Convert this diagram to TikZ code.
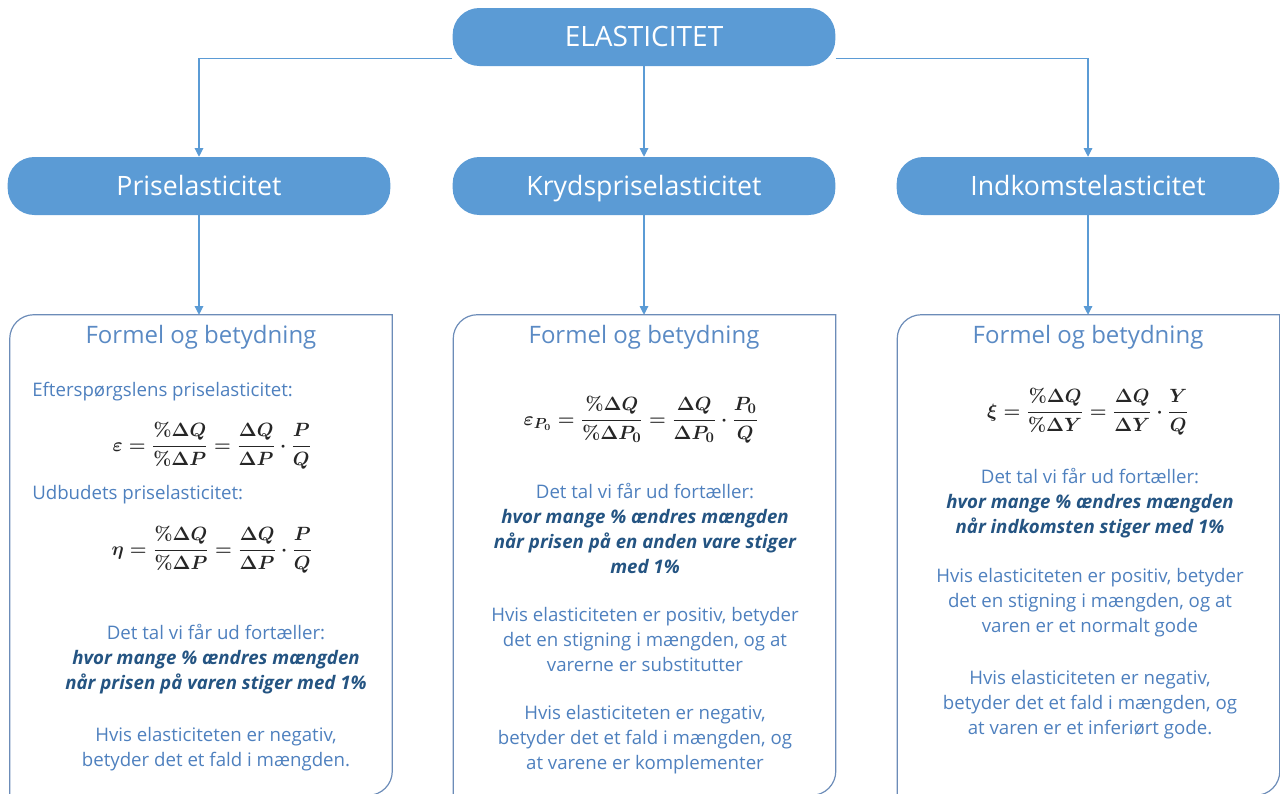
\documentclass[tikz,border=0pt]{standalone}
\usepackage[no-math]{fontspec}
\setmainfont{Open Sans}
\usepackage{amsmath,amssymb}
\usepackage{bm}
\usepackage{tikz}
\usetikzlibrary{shapes,arrows.meta,positioning,calc,backgrounds,shadows.blur}
\usepackage{xcolor}
\definecolor{officeblue}{RGB}{91,155,213}
\definecolor{boxline}{RGB}{108,140,184}
\definecolor{headblue}{RGB}{90,138,196}
\definecolor{bodyblue}{RGB}{78,128,190}
\definecolor{darkblue}{RGB}{36,84,130}
\definecolor{mathgrey}{RGB}{38,38,38}
\newcommand{\fremh}[1]{{\color{darkblue}\bfseries\itshape #1}}
\tikzset{
    topbox/.style={rounded corners=20pt, fill=officeblue,
                   minimum width=287pt, minimum height=43.5pt,
                   text height=15pt, text depth=1pt,
                   text=white, font=\fontsize{#1}{24}\selectfont},
    fmbox/.style={minimum width=286.5pt, minimum height=360pt},
    fmline/.style={draw=boxline, line width=0.9pt},
    fmtitle/.style={text=headblue, font=\fontsize{18}{21}\selectfont},
    fmtext/.style={text=bodyblue, align=center,
                   font=\fontsize{14}{18.75}\selectfont},
    fmlabel/.style={text=bodyblue, anchor=west, inner sep=0pt,
                    font=\fontsize{14}{18.75}\selectfont},
    fmmath/.style={text=mathgrey, font=\fontsize{15}{18}\selectfont\boldmath},
}

\begin{document}
\begin{tikzpicture}[
    x=0.75pt, y=-0.75pt,
    conn/.style={line width=0.8pt, officeblue,
                 -{Triangle[width=6.5pt,length=6.5pt]}}
]
    \useasboundingbox (0,0) rectangle (1280,793);

    % overskrifter
    \node[topbox=21] (elast) at (644,37) {ELASTICITET};
    \node[topbox=20] (pris) at (199,186) {Priselasticitet};
    \node[topbox=20] (kryds) at (644,186) {Krydspriselasticitet};
    \node[topbox=20] (indk) at (1088,186) {Indkomstelasticitet};

    % bokse
    \node[fmbox] (fpris) at (201,555) {};
    \node[fmbox] (fkryds) at (644.5,555) {};
    \node[fmbox] (findk) at (1088.5,555) {};
    \foreach \b in {fpris,fkryds,findk}
        \draw[fmline] (\b.south west) -- ([yshift=-18pt]\b.north west)
            arc[start angle=180, end angle=90, radius=18pt]
            -- (\b.north east) -- ([yshift=18pt]\b.south east)
            arc[start angle=0, end angle=-90, radius=18pt] -- cycle;

    % priselasticitet
    \node[fmtitle] (fpris-t) at (201,337) {Formel og betydning};
    \node[fmlabel] (eftersp) at (32,392) {Efterspørgslens priselasticitet:};
    \node[fmmath] (eps) at (212,446)
        {$\displaystyle\varepsilon=\frac{\%\Delta Q}{\%\Delta P}=\frac{\Delta Q}{\Delta P}\cdot\frac{P}{Q}$};
    \node[fmlabel] (udbud) at (32,495) {Udbudets priselasticitet:};
    \node[fmmath] (eta) at (212,550)
        {$\displaystyle\eta=\frac{\%\Delta Q}{\%\Delta P}=\frac{\Delta Q}{\Delta P}\cdot\frac{P}{Q}$};
    \node[fmtext] (pris-tal) at (216,659)
        {Det tal vi får ud fortæller:\\ \fremh{hvor mange \% ændres mængden}\\
         \fremh{når prisen på varen stiger med 1\%}};
    \node[fmtext] (pris-neg) at (216,749)
        {Hvis elasticiteten er negativ,\\ betyder det et fald i mængden.};

    % krydspriselasticitet
    \node[fmtitle] (fkryds-t) at (644,337) {Formel og betydning};
    \node[fmmath] (epsp) at (641,420)
        {$\displaystyle\varepsilon_{P_0}=\frac{\%\Delta Q}{\%\Delta P_0}=\frac{\Delta Q}{\Delta P_0}\cdot\frac{P_0}{Q}$};
    \node[fmtext] (kryds-tal) at (645,528)
        {Det tal vi får ud fortæller:\\ \fremh{hvor mange \% ændres mængden}\\
         \fremh{når prisen på en anden vare stiger}\\ \fremh{med 1\%}};
    \node[fmtext] (kryds-pos) at (645,639)
        {Hvis elasticiteten er positiv, betyder\\ det en stigning i mængden, og at\\
         varerne er substitutter};
    \node[fmtext] (kryds-neg) at (645,740)
        {Hvis elasticiteten er negativ,\\ betyder det et fald i mængden, og\\
         at varene er komplementer};

    % indkomstelasticitet
    \node[fmtitle] (findk-t) at (1088,337) {Formel og betydning};
    \node[fmmath] (xi) at (1088,412)
        {$\displaystyle\xi=\frac{\%\Delta Q}{\%\Delta Y}=\frac{\Delta Q}{\Delta Y}\cdot\frac{Y}{Q}$};
    \node[fmtext] (indk-tal) at (1090,503)
        {Det tal vi får ud fortæller:\\ \fremh{hvor mange \% ændres mængden}\\
         \fremh{når indkomsten stiger med 1\%}};
    \node[fmtext] (indk-pos) at (1090,603)
        {Hvis elasticiteten er positiv, betyder\\ det en stigning i mængden, og at\\
         varen er et normalt gode};
    \node[fmtext] (indk-neg) at (1090,705)
        {Hvis elasticiteten er negativ,\\ betyder det et fald i mængden, og\\
         at varen er et inferiørt gode.};

    % forbindelser
    \begin{scope}[on background layer]
        \draw[conn] ([yshift=6pt]elast.south west) -| (pris);
        \draw[conn] (elast) -- (kryds);
        \draw[conn] ([yshift=6pt]elast.south east) -| (indk);
        \draw[conn] (pris) -- (pris |- fpris.north);
        \draw[conn] (kryds) -- (kryds |- fkryds.north);
        \draw[conn] (indk) -- (indk |- findk.north);
    \end{scope}
\end{tikzpicture}
\end{document}
